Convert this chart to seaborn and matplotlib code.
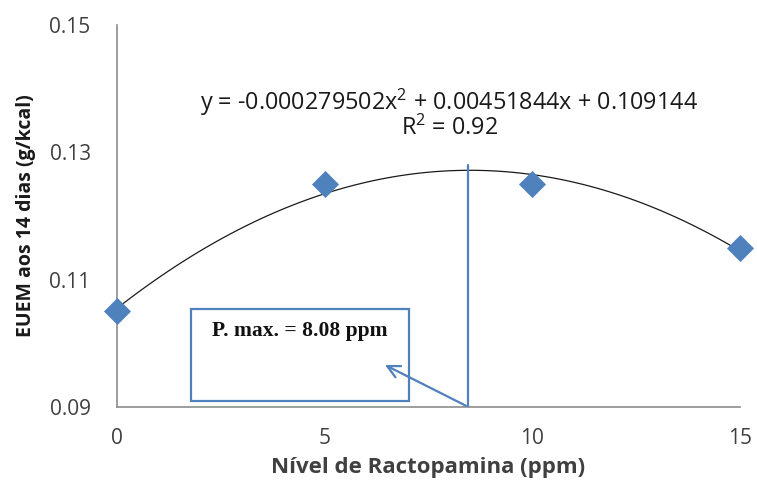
import matplotlib
matplotlib.use("Agg")
import matplotlib.pyplot as plt
import seaborn as sns
import pandas as pd
from matplotlib.patches import Rectangle
from matplotlib.ticker import MultipleLocator

# data
nivel = [0, 5, 10, 15]
euem = [0.105, 0.125, 0.125, 0.115]
x_ticks = [0, 5, 10, 15]
y_ticks = [0.09, 0.11, 0.13, 0.15]
y_tick_labels = ["0.09", "0.11", "0.13", "0.15"]
equation = "y = -0.000279502x$^{2}$ + 0.00451844x + 0.109144"
r2_text = "R$^{2}$ = 0.92"
pmax_text = "P. max. = 8.08 ppm"
x_label = "Nível de Ractopamina (ppm)"
y_label = "EUEM aos 14 dias (g/kcal)"

df = pd.DataFrame({"nivel": nivel, "euem": euem})

sns.set_style("white")
plt.rcParams["font.family"] = ["Open Sans", "DejaVu Sans"]
plt.rcParams["mathtext.fontset"] = "custom"
plt.rcParams["mathtext.rm"] = "Open Sans"

fig = plt.figure(figsize=(7.57, 4.86), dpi=100)
ax = fig.add_axes([0.1546, 0.1626, 0.8229, 0.786])

blue = "#4F81BD"

sns.regplot(data=df, x="nivel", y="euem", order=2, ci=None, scatter=False,
            line_kws={"color": "#1a1a1a", "lw": 0.9}, ax=ax)
sns.scatterplot(data=df, x="nivel", y="euem", marker="D", s=190, color=blue,
                edgecolor=blue, linewidth=0, ax=ax, clip_on=False, zorder=5)

ax.set_xlim(0, 15)
ax.set_ylim(0.09, 0.15)
ax.set_xticks(x_ticks)
ax.xaxis.set_minor_locator(MultipleLocator(1))
ax.set_yticks(y_ticks)
ax.set_yticklabels(y_tick_labels)

for s in ["top", "right"]:
    ax.spines[s].set_visible(False)
for s in ["left", "bottom"]:
    ax.spines[s].set_color("#8c8c8c")
    ax.spines[s].set_linewidth(1.2)

ax.tick_params(axis="x", which="both", direction="in", length=5, color="#8c8c8c",
               width=1, pad=15, labelsize=15, labelcolor="#404040")
ax.tick_params(axis="y", which="both", length=0, pad=19, labelsize=15,
               labelcolor="#404040")

ax.set_xlabel(x_label, fontsize=16, fontweight="bold", color="#404040", labelpad=6)
ax.set_ylabel(y_label, fontsize=14, fontweight="bold", color="#1a1a1a", labelpad=10)

ax.text(8.0, 0.1497 - 0.0118, equation, ha="center", va="center", fontsize=16.8,
        color="#1a1a1a")
ax.text(8.0, 0.1497 - 0.0159, r2_text, ha="center", va="center", fontsize=16.8,
        color="#1a1a1a")

# annotation elements
ax.plot([8.46, 8.46], [0.09, 0.128], color=blue, lw=1.6, zorder=3)
ax.add_patch(Rectangle((1.77, 0.0909), 7.04 - 1.77, 0.1054 - 0.0909, fill=False,
                       edgecolor=blue, lw=1.6, zorder=3))
ax.text(4.4, 0.1020, pmax_text, ha="center", va="center", fontsize=15.5,
        fontweight="bold", family=["Liberation Serif"], color="#111111")
ax.annotate("", xy=(6.39, 0.0968), xytext=(8.46, 0.09),
            arrowprops=dict(arrowstyle="->,head_length=0.9,head_width=0.45",
                            color=blue, lw=1.6), zorder=4)

fig.savefig("out.png", dpi=100)
